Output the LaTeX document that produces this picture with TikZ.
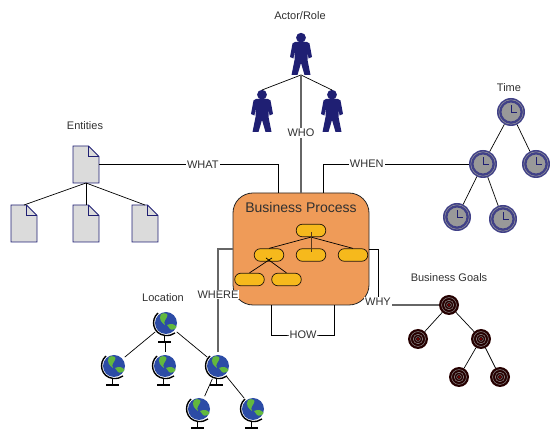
\documentclass[tikz,border=0pt]{standalone}
\usepackage{fontspec}
\setmainfont{Liberation Sans}
\definecolor{navyicon}{HTML}{1F1F73}
\definecolor{procfill}{HTML}{EF9B58}
\definecolor{pillfill}{HTML}{F6B91C}
\definecolor{globeblue}{HTML}{2C4CA6}
\definecolor{globegreen}{HTML}{62B83E}
\definecolor{txtcol}{HTML}{303030}
\tikzset{
  iconbox/.style={inner sep=0pt, outer sep=0pt, minimum width=#1},
  toptext/.style={font=\fontsize{11}{13}\selectfont, text=txtcol},
  linklabel/.style={font=\fontsize{11}{13}\selectfont, text=txtcol, fill=white, inner sep=1pt},
  link/.style={line width=0.7pt, black},
  graylink/.style={line width=1.2pt, black!60},
  pill/.style={draw=black!80!brown, fill=pillfill, rounded corners=6pt, minimum width=29.5pt,
    minimum height=12.5pt, inner sep=0pt, line width=0.7pt}
}
% icons: #1 node name, #2 position
\newcommand{\personicon}[2]{%
  \node[iconbox=21pt, minimum height=42pt] (#1) at (#2) {};
  \begin{scope}[shift={(#1.center)}]
    \fill[navyicon] (0,-16.3) circle (4.9);
    \fill[navyicon] (-6,-12)--(6,-12)--(8.5,-10.5)--(11,3)--(7.5,4.5)--(6.5,-3)--(6.5,6)--(9.5,21)
      --(3.5,21)--(0,9)--(-3.5,21)--(-9.5,21)--(-6.5,6)--(-6.5,-3)--(-7.5,4.5)--(-11,3)--(-8.5,-10.5)--cycle;
  \end{scope}}
\newcommand{\docicon}[2]{%
  \node[iconbox=26pt, minimum height=37pt] (#1) at (#2) {};
  \begin{scope}[shift={(#1.center)}]
    \draw[navyicon, fill=black!14, line width=0.8pt] (-13,-18.5)--(2.5,-18.5)--(13,-8)--(13,18.5)--(-13,18.5)--cycle;
    \draw[navyicon, line width=0.8pt] (2.5,-18.5)--(2.5,-8)--(13,-8);
  \end{scope}}
\newcommand{\clockicon}[2]{%
  \node[circle, iconbox=28pt] (#1) at (#2) {};
  \begin{scope}[shift={(#1.center)}]
    \fill[navyicon!85] (0,0) circle (14);
    \draw[black!40, line width=0.5pt] (0,0) circle (12.2);
    \draw[navyicon!85, fill=black!40, line width=1pt] (0,0) circle (10);
    \draw[navyicon, line width=0.9pt] (0,-6.5)--(0,0)--(5.5,0);
  \end{scope}}
\newcommand{\goalicon}[2]{%
  \node[circle, iconbox=20pt] (#1) at (#2) {};
  \begin{scope}[shift={(#1.center)}]
    \fill[black!85!red] (0,0) circle (10);
    \draw[black!45, line width=0.5pt] (0,0) circle (7.4);
    \draw[black!45, line width=0.5pt] (0,0) circle (4.8);
    \draw[black!45, line width=0.5pt] (0,0) circle (2.4);
    \fill[red!70!black] (0,0) circle (0.9);
  \end{scope}}
\newcommand{\globeicon}[2]{%
  \node[circle, iconbox=28pt] (#1) at (#2) {};
  \begin{scope}[shift={(#1.center)}]
    \draw[black, line width=1.4pt] (-8,-10) .. controls (-16,-3) and (-13,11) .. (-1,12.5) .. controls (3,12.8) and (6,12) .. (9,10);
    \draw[black, line width=0.8pt] (-1.5,13)--(-1.5,19);
    \draw[black, line width=1.1pt] (-8,19)--(5,19);
    \fill[globeblue] (0,0) circle (11);
    \fill[globegreen] (-5,-9) .. controls (-1,-11) and (3,-9) .. (1,-6) .. controls (0,-3) and (-3,-2) .. (-1,2)
      .. controls (-4,0) and (-8,-4) .. cycle;
    \fill[globegreen] (1,2) .. controls (5,0) and (9,1) .. (10.5,4) .. controls (9,7) and (5,7) .. (4,6) -- cycle;
  \end{scope}}

\begin{document}
\begin{tikzpicture}[x=1pt, y=-1pt]
\useasboundingbox (0,0) rectangle (550,430);

% actors
\personicon{actorTop}{301,54}
\personicon{actorLeft}{262,111}
\personicon{actorRight}{332,111}
\node[toptext] (actorText) at (300,16) {Actor/Role};

% entities
\docicon{entityTop}{86,164.5}
\docicon{entityLeft}{24,223.5}
\docicon{entityMid}{86,223.5}
\docicon{entityRight}{145,223.5}
\node[toptext] (entityText) at (85,126) {Entities};

% time
\clockicon{timeTop}{511,112}
\clockicon{timeMid}{483,164}
\clockicon{timeRight}{536,164}
\clockicon{timeLow}{457,217}
\clockicon{timeLast}{503,219}
\node[toptext] (timeText) at (509,88) {Time};

% goals
\goalicon{goalTop}{449,305}
\goalicon{goalLeft}{418,339}
\goalicon{goalMid}{481,339}
\goalicon{goalLow}{459,377}
\goalicon{goalLast}{500,377}
\node[toptext] (goalText) at (449,278) {Business Goals};

% location
\globeicon{placeTop}{166,323}
\globeicon{placeLeft}{114,366}
\globeicon{placeMid}{165,366}
\globeicon{placeRight}{218,366}
\globeicon{placeLow}{199,409}
\globeicon{placeLast}{253,409}
\node[toptext] (placeText) at (163,298) {Location};

% process box
\node[draw=black!85, fill=procfill, rounded corners=20pt, line width=0.8pt, minimum width=136pt,
  minimum height=112pt, inner sep=0pt] (process) at (301,249) {};
\node[font=\fontsize{14}{16}\selectfont, text=txtcol] (processText) at (301,207) {Business Process};
\node[pill] (pillTop) at (311,230.5) {};
\node[pill] (pillA) at (269,255) {};
\node[pill] (pillB) at (311,255) {};
\node[pill] (pillC) at (353,255) {};
\node[pill] (pillD) at (249.5,279.5) {};
\node[pill] (pillE) at (286.5,279.5) {};
\coordinate (crossA) at (272,258);
\coordinate (crossB) at (266,258);
\coordinate (innerTop) at (311,232);
\coordinate (innerLow) at (311,252);
\draw[link] (pillTop.south) -- (pillA.north);
\draw[link] (pillTop.south) -- (pillC.north);
\draw[line width=0.9pt, black!55!brown] (innerTop) -- (innerLow);
\draw[link] (pillD.north) -- (crossA);
\draw[link] (pillE.north) -- (crossB);

% trees
\draw[link] (actorTop.south) -- (actorLeft.north);
\draw[link] (actorTop.south) -- (actorRight.north);
\draw[link] (entityTop.south) -- (entityLeft.north);
\draw[link] (entityTop.south) -- (entityMid.north);
\draw[link] (entityTop.south) -- (entityRight.north);
\draw[link] (timeTop) -- (timeMid);
\draw[link] (timeTop) -- (timeRight);
\draw[link] (timeMid) -- (timeLow);
\draw[link] (timeMid) -- (timeLast);
\draw[link] (goalTop) -- (goalLeft);
\draw[link] (goalTop) -- (goalMid);
\draw[link] (goalMid) -- (goalLow);
\draw[link] (goalMid) -- (goalLast);
\draw[link] (placeTop) -- (placeLeft);
\draw[link] (placeTop) -- (placeRight);
\draw[link] (placeRight) -- (placeLow);
\draw[link] (placeRight) -- (placeLast);
\coordinate (placeStand) at (165,342);
\draw[link] (placeStand) -- (placeMid.north);

% questions
\coordinate (whatEnd) at (278,193);
\coordinate (whoEnd) at (301,193);
\coordinate (whenEnd) at (323,193);
\coordinate (howLeft) at (271,305);
\coordinate (howRight) at (334,305);
\coordinate (howLow) at (303,335);
\coordinate (whereEnd) at (233,249);
\coordinate (whyEnd) at (369,249);
\coordinate (whyLow) at (378,303);

\draw[link] (entityTop.east) -| node[linklabel, pos=0.29] (whatText) {WHAT} (whatEnd);
\draw[graylink] (actorTop.south) -- node[linklabel, pos=0.49] (whoText) {WHO} (whoEnd);
\draw[link] (whenEnd) |- node[linklabel, pos=0.65] (whenText) {WHEN} (timeMid.west);
\draw[link] (howLeft) |- (howLow) -| (howRight);
\node[linklabel] (howText) at (howLow) {HOW};
\draw[graylink] (whereEnd) -| node[linklabel, pos=0.72] (whereText) {WHERE} (placeRight.north);
\draw[link] (whyEnd) -| (whyLow);
\draw[graylink] (whyLow |- goalTop) -- (goalTop.west);
\node[linklabel] (whyText) at (378,302) {WHY};
\end{tikzpicture}
\end{document}
